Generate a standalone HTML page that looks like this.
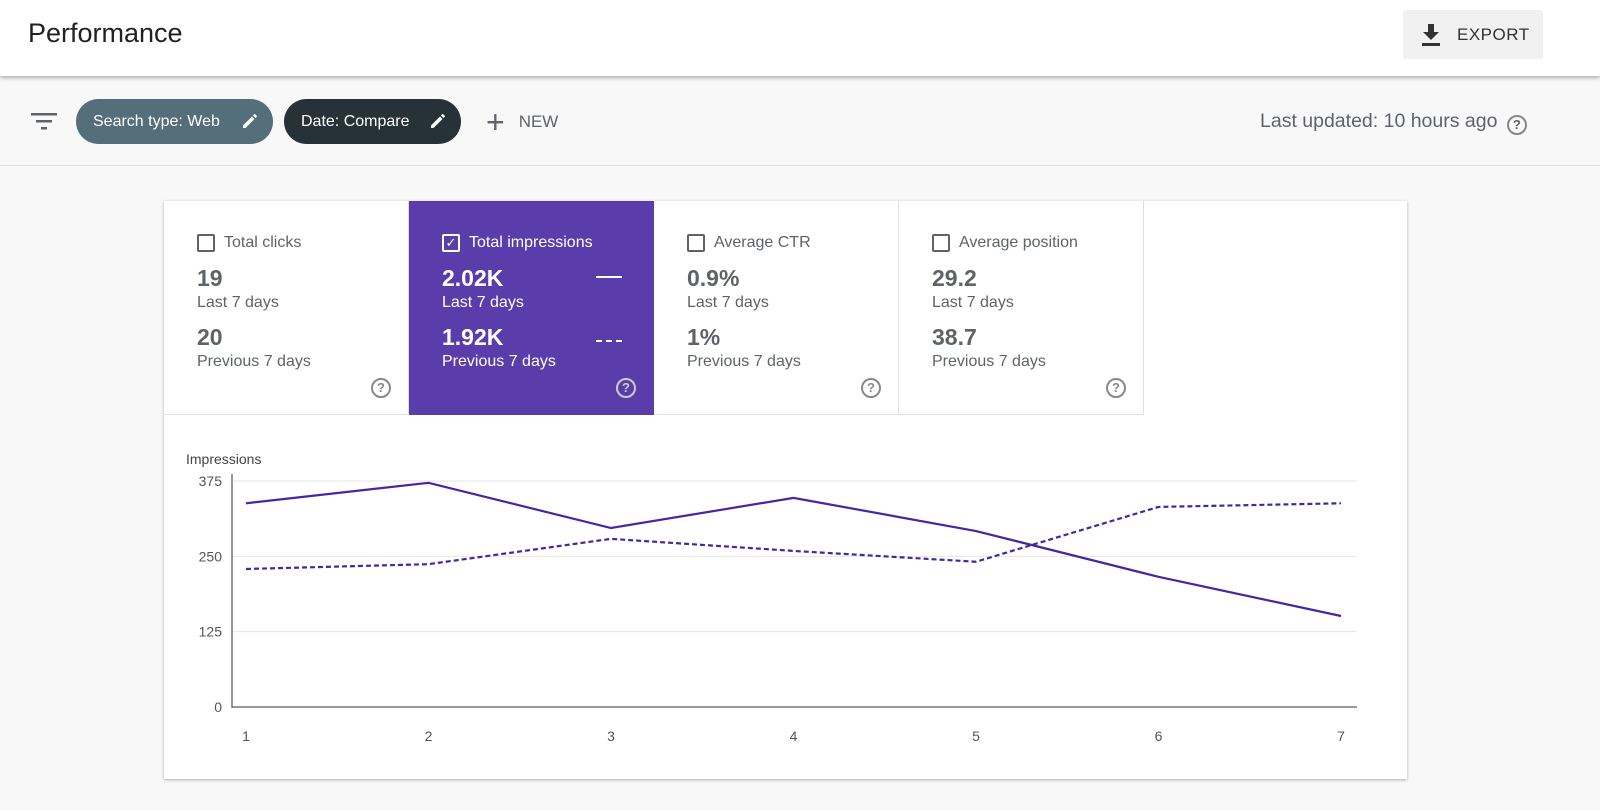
<!DOCTYPE html>
<html><head><meta charset="utf-8"><style>
*{box-sizing:border-box;margin:0;padding:0}
body{width:1600px;height:810px;background:#f8f8f8;font-family:"Liberation Sans",sans-serif;position:relative;overflow:hidden;color:#202124}
.hdr{position:absolute;left:0;top:0;width:1600px;height:76px;background:#fff;box-shadow:0 2px 4px rgba(0,0,0,.3);z-index:2}
.title{position:absolute;left:28px;top:18px;font-size:27px;color:#202124}
.export{position:absolute;left:1403px;top:10px;width:140px;height:49px;background:#f1f1f1;border-radius:3px;font-size:17px;letter-spacing:.5px;color:#333;display:flex;align-items:center;padding-left:54px}
.bar{position:absolute;left:0;top:76px;width:1600px;height:90px;border-bottom:1px solid #ddd;background:#f8f8f8}
.chip{position:absolute;top:23px;height:45px;border-radius:23px;color:#fff;font-size:16px;display:flex;align-items:center;padding-left:17px}
.chip svg{position:absolute;right:14px;top:13px}
.card{position:absolute;left:164px;top:201px;width:1243px;height:578px;background:#fff;box-shadow:0 1px 3px rgba(0,0,0,.3)}
.tile{position:absolute;top:0;width:245px;height:214px;border-right:1px solid #e0e0e0;border-bottom:1px solid #e0e0e0;padding:33px 0 0 33px;color:#5f6368}
.tile .lab{font-size:16px;display:flex;align-items:center;gap:9px}
.cb{width:18px;height:18px;border:2px solid #5f6368;border-radius:2px}
.big{font-size:23px;font-weight:bold;margin-top:13px;color:#5f6368}
.sub{font-size:16px;margin-top:2px}
.q{position:absolute;left:207px;top:177px;width:20px;height:20px;border:2px solid #888;border-radius:50%;font-size:13px;text-align:center;line-height:16px;color:#888;font-weight:bold}
.sel{background:#5a3dab;color:#fff}
.sel .big,.sel .sub{color:#fff}
</style></head><body>
<div class="hdr">
<div class="title">Performance</div>
<div class="export">
<svg style="position:absolute;left:18px;top:13px" width="20" height="24" viewBox="0 0 20 24"><path d="M7 1h6v8h5l-8 8-8-8h5z M1 20h18v3H1z" fill="#333"/></svg>EXPORT</div>
</div>
<div class="bar">
<svg style="position:absolute;left:31px;top:37px" width="26" height="18"><rect x="0" y="0" width="26" height="2.5" fill="#5f6368"/><rect x="5" y="7" width="16" height="2.5" fill="#5f6368"/><rect x="10" y="14" width="6" height="2.5" fill="#5f6368"/></svg>
<div class="chip" style="left:76px;width:197px;background:#546e7a">Search type: Web<svg width="18" height="18" viewBox="0 0 18 18"><path d="M2 13.5V16h2.5l9-9L11 4.5zM15.7 4.8a.7.7 0 000-1L14.2 2.3a.7.7 0 00-1 0L12 3.5 14.5 6z" fill="#fff"/></svg></div>
<div class="chip" style="left:284px;width:177px;background:#263238">Date: Compare<svg width="18" height="18" viewBox="0 0 18 18"><path d="M2 13.5V16h2.5l9-9L11 4.5zM15.7 4.8a.7.7 0 000-1L14.2 2.3a.7.7 0 00-1 0L12 3.5 14.5 6z" fill="#fff"/></svg></div>
<div style="position:absolute;left:486px;top:32px;font-size:17px;color:#5f6368;display:flex;align-items:center"><span style="font-size:32px;font-weight:300;margin-right:14px;line-height:28px">+</span>NEW</div>
<div style="position:absolute;left:1260px;top:34px;font-size:19.5px;color:#5f6368">Last updated: 10 hours ago <span style="display:inline-block;width:20px;height:20px;border:2px solid #888;border-radius:50%;font-size:13px;text-align:center;line-height:16px;font-weight:bold;vertical-align:-2px;margin-left:4px">?</span></div>
</div>
<div class="card">
<div class="tile" style="left:0"><div class="lab"><div class="cb"></div>Total clicks</div><div class="big">19</div><div class="sub">Last 7 days</div><div class="big" style="margin-top:12px">20</div><div class="sub">Previous 7 days</div><div class="q">?</div></div>
<div class="tile sel" style="left:245px;border:none"><div class="lab"><div class="cb" style="border-color:#fff;color:#fff;font-size:13px;line-height:14px;text-align:center">✓</div>Total impressions</div><div class="big">2.02K</div><div class="sub">Last 7 days</div><div class="big" style="margin-top:12px">1.92K</div><div class="sub">Previous 7 days</div><div class="q" style="border-color:#ccc;color:#ccc">?</div>
<div style="position:absolute;left:187px;top:75px;width:26px;height:2px;background:#fff"></div>
<div style="position:absolute;left:187px;top:139px;width:26px;border-top:2px dashed #fff"></div></div>
<div class="tile" style="left:490px"><div class="lab"><div class="cb"></div>Average CTR</div><div class="big">0.9%</div><div class="sub">Last 7 days</div><div class="big" style="margin-top:12px">1%</div><div class="sub">Previous 7 days</div><div class="q">?</div></div>
<div class="tile" style="left:735px"><div class="lab"><div class="cb"></div>Average position</div><div class="big">29.2</div><div class="sub">Last 7 days</div><div class="big" style="margin-top:12px">38.7</div><div class="sub">Previous 7 days</div><div class="q">?</div></div>
</div>
<svg id="chart" width="1600" height="810" style="position:absolute;left:0;top:0"></svg>
<script>
const days=["1","2","3","4","5","6","7"];
const current=[338,372,297,347,292,216,151];
const previous=[229,237,279,259,241,332,338];
const yTicks=[0,125,250,375];
const NS="http://www.w3.org/2000/svg";
const svg=document.getElementById('chart');
const x=i=>246+i*(1341-246)/(days.length-1);
const y=v=>707-v*(707-481)/375;
function mk(t,a,txt){const e=document.createElementNS(NS,t);for(const k in a)e.setAttribute(k,a[k]);if(txt!==undefined)e.textContent=txt;svg.appendChild(e);return e;}
const yl=mk('text',{x:186,y:464,'font-size':14,fill:'#444','font-family':'Liberation Sans'},'Impressions');


yTicks.forEach(t=>{
 const g=mk('line',{x1:232,x2:1357,y1:y(t),y2:y(t),stroke:t===0?'#777':'#e6e6e6','stroke-width':t===0?1.5:1});
 
 
 const l=mk('text',{x:222,y:y(t)+5,'font-size':14,fill:'#555','text-anchor':'end','font-family':'Liberation Sans'},t);
 
 
});
const ax=mk('line',{x1:232,x2:232,y1:474,y2:708,stroke:'#777','stroke-width':1.5});


days.forEach((d,i)=>{
 const l=mk('text',{x:x(i),y:741,'font-size':14,fill:'#555','text-anchor':'middle','font-family':'Liberation Sans'},d);
 
 
});
const p1=mk('polyline',{points:current.map((v,i)=>x(i)+','+y(v)).join(' '),fill:'none',stroke:'#4527a0','stroke-width':2.2});


const p2=mk('polyline',{points:previous.map((v,i)=>x(i)+','+y(v)).join(' '),fill:'none',stroke:'#4527a0','stroke-width':2.2,'stroke-dasharray':'5,3'});


</script>
</body></html>
